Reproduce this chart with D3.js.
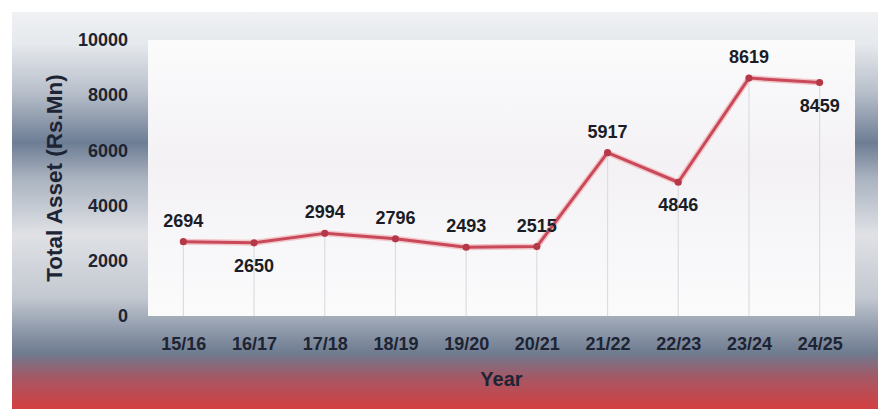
<!DOCTYPE html>
<html><head><meta charset="utf-8">
<script src="https://cdn.jsdelivr.net/npm/d3@7"></script>
<style>body{margin:0;background:#fff;}svg{display:block;}</style>
</head><body>
<script>
const categories = ["15/16","16/17","17/18","18/19","19/20","20/21","21/22","22/23","23/24","24/25"];
const values = [2694,2650,2994,2796,2493,2515,5917,4846,8619,8459];
const labelPos = ["above","below","above","above","above","above","above","below","above","below"];
const yTicks = [0,2000,4000,6000,8000,10000];
const yTitle = "Total Asset (Rs.Mn)";
const xTitle = "Year";

const W = 880, H = 409;
const svg = d3.select("body").append("svg").attr("width", W).attr("height", H);
const defs = svg.append("defs");

const bg = defs.append("linearGradient").attr("id","bg").attr("x1",0).attr("y1",0).attr("x2",0).attr("y2",1);
[[0,"#eff1f3"],[0.08,"#e6e9ed"],[0.2,"#b9c0cb"],[0.33,"#6d7d94"],[0.42,"#aab3c0"],[0.56,"#dfe1e5"],[0.72,"#c3c8d0"],[0.8,"#8f9aab"],[0.86,"#6f7b8f"],[0.92,"#a45866"],[1,"#d43f3f"]]
  .forEach(([o,c]) => bg.append("stop").attr("offset",o).attr("stop-color",c));
const pg = defs.append("linearGradient").attr("id","pg").attr("x1",0).attr("y1",0).attr("x2",0).attr("y2",1);
[[0,"#fbfbfc"],[0.45,"#f3f1f4"],[1,"#fbfbfc"]].forEach(([o,c]) => pg.append("stop").attr("offset",o).attr("stop-color",c));

svg.append("rect").attr("x",12).attr("y",12).attr("width",866).attr("height",H-12).attr("fill","url(#bg)");

const m = {l:148, r:855, t:40, b:316};
svg.append("rect").attr("x",m.l).attr("y",m.t).attr("width",m.r-m.l).attr("height",m.b-m.t).attr("fill","url(#pg)");

const x = d3.scalePoint().domain(categories).range([m.l, m.r]).padding(0.5);
const y = d3.scaleLinear().domain([0,10000]).range([m.b, m.t]);

const data = categories.map((c,i) => ({c, v: values[i], pos: labelPos[i]}));

// drop lines
svg.append("g").selectAll("line").data(data).join("line")
  .attr("x1", d => x(d.c)).attr("x2", d => x(d.c))
  .attr("y1", d => y(d.v)).attr("y2", m.b)
  .attr("stroke","#dcdde2").attr("stroke-width",1.2);

const font = "'Liberation Sans', Arial, sans-serif";
const textCol = "#1d2433";

// y axis
const ya = svg.append("g").attr("transform",`translate(${m.l-20},0)`)
  .call(d3.axisLeft(y).tickValues(yTicks).tickSize(0).tickPadding(0).tickFormat(d3.format("d")));
ya.select(".domain").remove();
ya.selectAll("text").attr("font-family",font).attr("font-weight","bold").attr("font-size",18).attr("fill",textCol).attr("dx",0);

// x axis
const xa = svg.append("g").attr("transform",`translate(0,${m.b})`)
  .call(d3.axisBottom(x).tickSize(0).tickPadding(0));
xa.select(".domain").remove();
xa.selectAll("text").attr("font-family",font).attr("font-weight","bold").attr("font-size",18).attr("fill",textCol)
  .attr("dy",null).attr("y",34);

// titles
svg.append("text").attr("transform",`translate(62,${(m.t+m.b)/2}) rotate(-90)`)
  .attr("text-anchor","middle").attr("font-family",font).attr("font-weight","bold")
  .attr("font-size",22.5).attr("fill",textCol).text(yTitle);
svg.append("text").attr("x",(m.l+m.r)/2).attr("y",386).attr("text-anchor","middle")
  .attr("font-family",font).attr("font-weight","bold").attr("font-size",20).attr("fill",textCol).text(xTitle);

// line
const line = d3.line().x(d => x(d.c)).y(d => y(d.v));
svg.append("path").datum(data).attr("d",line).attr("fill","none")
  .attr("stroke","#f2c6c8").attr("stroke-width",6).attr("stroke-linejoin","round");
svg.append("path").datum(data).attr("d",line).attr("fill","none")
  .attr("stroke","#c9495a").attr("stroke-width",3).attr("stroke-linejoin","round");

// markers
svg.append("g").selectAll("path").data(data).join("path")
  .attr("transform", d => `translate(${x(d.c)},${y(d.v)})`)
  .attr("d", d3.symbol().type(d3.symbolCircle).size(40))
  .attr("fill","#b43848");

// labels
svg.append("g").selectAll("text").data(data).join("text")
  .attr("x", d => x(d.c))
  .attr("y", d => y(d.v) + (d.pos === "above" ? -15 : 29))
  .attr("text-anchor","middle").attr("font-family",font).attr("font-weight","bold")
  .attr("font-size",18).attr("fill","#1a1d26").text(d => d.v);
</script>
</body></html>
